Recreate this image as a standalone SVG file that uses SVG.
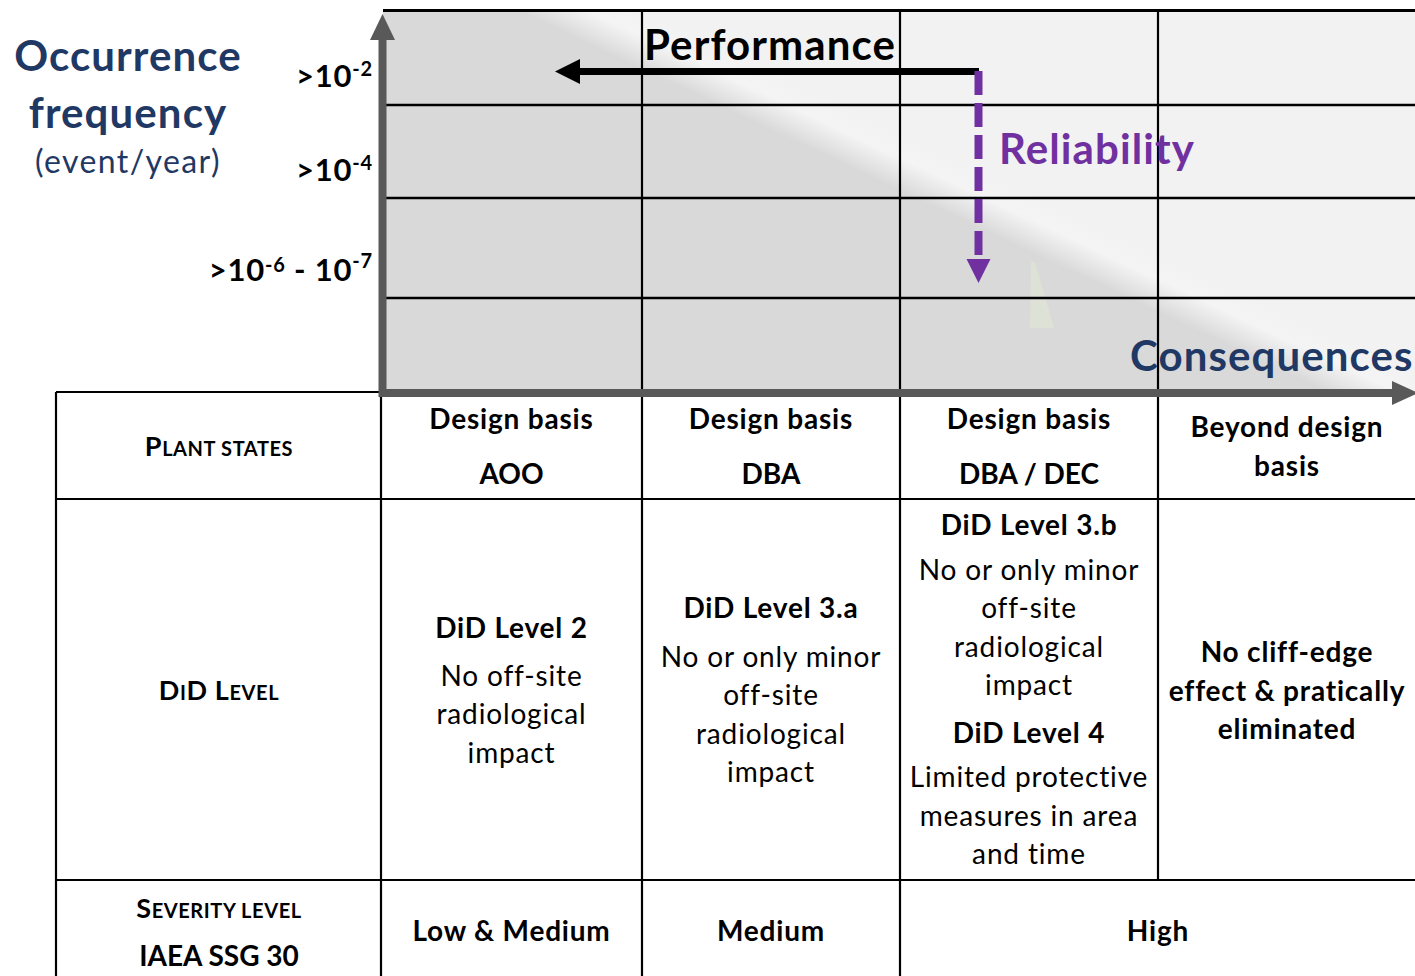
<svg xmlns="http://www.w3.org/2000/svg" width="1415" height="976" viewBox="0 0 1415 976">
  <style>
    text { font-family: Lato, "Liberation Sans", sans-serif; fill: #000; }
    .b { font-weight: 700; }
    .mid { text-anchor: middle; }
    .end { text-anchor: end; }
    .body { font-size: 28px; letter-spacing: 0.85px; }
    .body.b { letter-spacing: 0.8px; }
    .body.caps { letter-spacing: 0; }
    .big { font-size: 42px; font-weight: 700; letter-spacing: 1.1px; }
    .navy { fill: #1f3864; }
    .purple { fill: #7030a0; }
    .grid { stroke: #000; stroke-width: 2.5; fill: none; }
    .tbl { stroke: #000; stroke-width: 2.2; fill: none; }
    .axis { stroke: #595959; stroke-width: 8; fill: none; }
    .tick { font-size: 31px; font-weight: 700; letter-spacing: 0.8px; }
    .sup { font-size: 20px; }
    .sc { font-size: 27px; font-weight: 700; letter-spacing: 0.6px; }
    .sc tspan { font-size: 20px; }
  </style>
  <defs>
    <linearGradient id="shade" gradientUnits="userSpaceOnUse" x1="884" y1="204" x2="916" y2="136">
      <stop offset="0.25" stop-color="#d9d9d9"/>
      <stop offset="0.65" stop-color="#f4f4f4"/>
      <stop offset="1" stop-color="#f2f2f2"/>
    </linearGradient>
  </defs>

  <rect width="1415" height="976" fill="#fff"/>

  <!-- frequency / consequence chart area -->
  <g id="chart">
    <rect x="383" y="10" width="1040" height="383" fill="url(#shade)"/>
    <polygon points="1031,262 1035,262 1054,328 1030,328" fill="#e4ead2" opacity="0.45"/>
    <path class="grid" d="M383 105H1415M383 198H1415M383 298H1415"/>
    <path d="M383 10.5H1415" stroke="#000" stroke-width="3"/>
  </g>

  <!-- table rulings -->
  <g id="table-lines">
    <path class="tbl" d="M56 392H381M56 499H1415M56 880H1415"/>
    <path class="tbl" d="M56 392V976M381 392V976M642 10V976M900 10V976M1158 10V880"/>
  </g>

  <!-- axes and trend arrows -->
  <g id="connectors">
    <path class="axis" d="M382.5 397V38"/>
    <polygon points="382.5,14 370,40 395,40" fill="#595959"/>
    <path class="axis" d="M379 393H1394"/>
    <polygon points="1418,393 1392,381 1392,405" fill="#595959"/>
    <path d="M979 71.5H577" stroke="#000" stroke-width="7"/>
    <polygon points="555,71.5 580,59 580,84" fill="#000"/>
    <path d="M978.5 71V259" stroke="#7030a0" stroke-width="8" stroke-dasharray="24 8"/>
    <polygon points="978.5,283 966.5,259 990.5,259" fill="#7030a0"/>
  </g>

  <!-- axis titles -->
  <g id="y-title">
    <text class="big navy mid" x="128" y="71">Occurrence</text>
    <text class="big navy mid" x="128" y="128">frequency</text>
    <text class="navy mid" x="128" y="173" font-size="32" letter-spacing="1.4">(event/year)</text>
  </g>
  <g id="y-ticks">
    <text class="tick end" x="373" y="87">&gt;10<tspan class="sup" dy="-11">-2</tspan></text>
    <text class="tick end" x="373" y="181">&gt;10<tspan class="sup" dy="-11">-4</tspan></text>
    <text class="tick end" x="373" y="281">&gt;10<tspan class="sup" dy="-9">-6</tspan><tspan dy="9"> - 10</tspan><tspan class="sup" dy="-13">-7</tspan></text>
  </g>
  <g id="performance"><text class="big" x="644" y="60">Performance</text></g>
  <g id="reliability"><text class="big purple" x="999" y="164">Reliability</text></g>
  <g id="consequences"><text class="big navy" x="1130" y="371">Consequences</text></g>

  <!-- row headers -->
  <g id="plant-states">
    <text class="sc mid" x="219" y="456">P<tspan>LANT STATES</tspan></text>
  </g>
  <g id="did-level">
    <text class="sc mid" x="219" y="700">D<tspan>I</tspan>D L<tspan>EVEL</tspan></text>
  </g>
  <g id="severity-level">
    <text class="sc mid" x="219" y="918">S<tspan>EVERITY LEVEL</tspan></text>
    <text class="b mid body caps" x="219" y="966">IAEA SSG 30</text>
  </g>

  <!-- plant state columns -->
  <g id="state-aoo">
    <text class="b mid body" x="511.5" y="429">Design basis</text>
    <text class="b mid body caps" x="511.5" y="484">AOO</text>
  </g>
  <g id="state-dba">
    <text class="b mid body" x="771" y="429">Design basis</text>
    <text class="b mid body caps" x="771" y="484">DBA</text>
  </g>
  <g id="state-dec">
    <text class="b mid body" x="1029" y="429">Design basis</text>
    <text class="b mid body caps" x="1029" y="484">DBA / DEC</text>
  </g>
  <g id="state-bdb">
    <text class="b mid body" x="1287" y="437">Beyond design</text>
    <text class="b mid body" x="1287" y="476">basis</text>
  </g>

  <!-- defence-in-depth levels -->
  <g id="did-2">
    <text class="b mid body" x="511.5" y="638">DiD Level 2</text>
    <text class="mid body" x="511.5" y="686">No off-site</text>
    <text class="mid body" x="511.5" y="724">radiological</text>
    <text class="mid body" x="511.5" y="763">impact</text>
  </g>
  <g id="did-3a">
    <text class="b mid body" x="771" y="618">DiD Level 3.a</text>
    <text class="mid body" x="771" y="667">No or only minor</text>
    <text class="mid body" x="771" y="705">off-site</text>
    <text class="mid body" x="771" y="744">radiological</text>
    <text class="mid body" x="771" y="782">impact</text>
  </g>
  <g id="did-3b-4">
    <text class="b mid body" x="1029" y="535">DiD Level 3.b</text>
    <text class="mid body" x="1029" y="580">No or only minor</text>
    <text class="mid body" x="1029" y="618">off-site</text>
    <text class="mid body" x="1029" y="657">radiological</text>
    <text class="mid body" x="1029" y="695">impact</text>
    <text class="b mid body" x="1029" y="743">DiD Level 4</text>
    <text class="mid body" x="1029" y="787">Limited protective</text>
    <text class="mid body" x="1029" y="826">measures in area</text>
    <text class="mid body" x="1029" y="864">and time</text>
  </g>
  <g id="did-bdb">
    <text class="b mid body" x="1287" y="662">No cliff-edge</text>
    <text class="b mid body" x="1287" y="701">effect &amp; pratically</text>
    <text class="b mid body" x="1287" y="739">eliminated</text>
  </g>

  <!-- severity levels -->
  <g id="sev-low"><text class="b mid body" x="511.5" y="941">Low &amp; Medium</text></g>
  <g id="sev-medium"><text class="b mid body" x="771" y="941">Medium</text></g>
  <g id="sev-high"><text class="b mid body" x="1158" y="941">High</text></g>
</svg>
